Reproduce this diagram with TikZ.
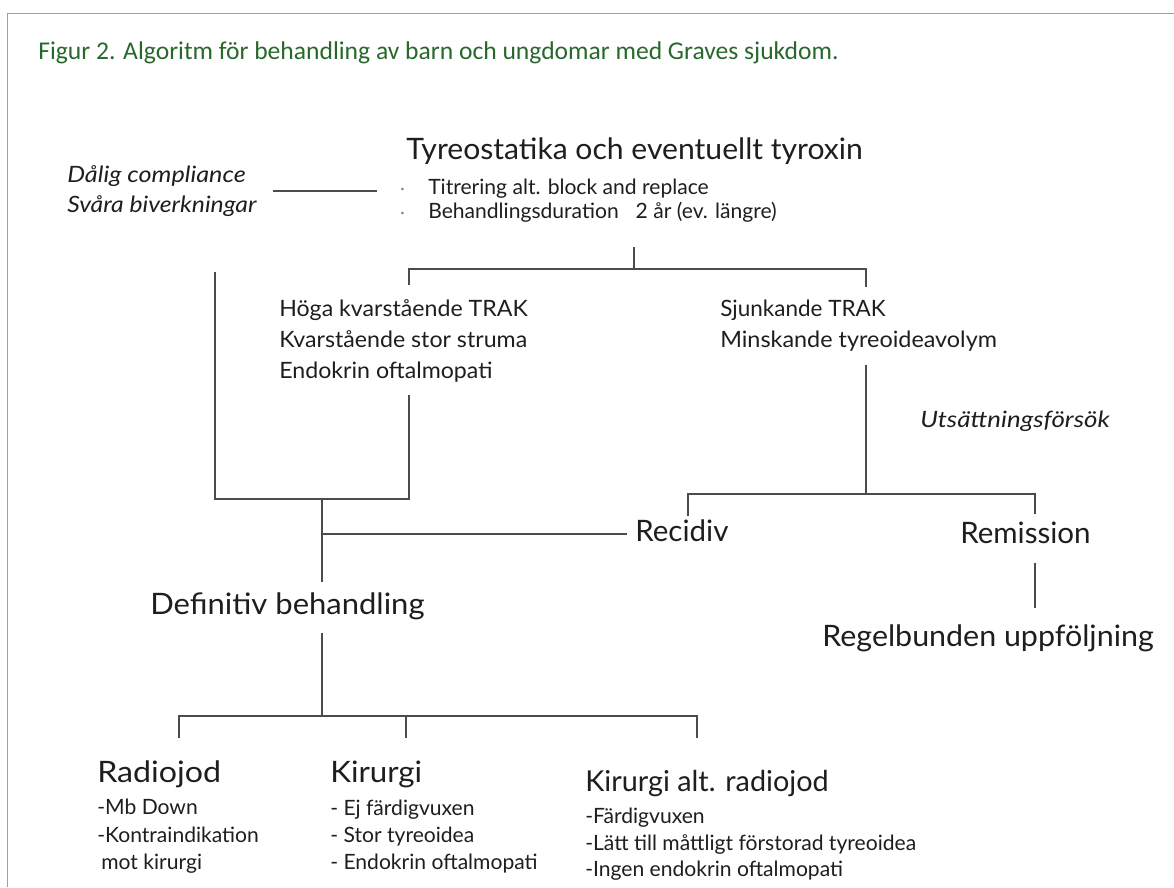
\documentclass[tikz,border=0pt]{standalone}
\usepackage{fontspec}
\setmainfont{Lato}
\newfontfamily\titlefont{Carlito}
\definecolor{titlegreen}{RGB}{40,104,44}
\definecolor{txt}{RGB}{30,30,30}
\definecolor{linegray}{RGB}{75,75,75}
\definecolor{framegray}{RGB}{160,160,160}
\newcommand{\hs}[2]{\scalebox{#1}[1]{#2}}
\tikzset{
  base/.style={anchor=west, inner sep=0pt, text=txt, text height=0.72em, text depth=0pt},
  ttl/.style={base, text=titlegreen, font=\titlefont\fontsize{18.2}{20}\selectfont},
  big/.style={base, font=\fontsize{21}{24}\selectfont},
  med/.style={base, font=\fontsize{16}{19}\selectfont},
  medit/.style={base, font=\itshape\fontsize{16}{19}\selectfont},
  sml/.style={base, font=\fontsize{15}{18}\selectfont},
  bul/.style={base, text=gray, font=\fontsize{12}{14}\selectfont},
  conn/.style={draw=linegray, line width=1.1pt},
}
\begin{document}
\begin{tikzpicture}[x=0.25mm,y=-0.25mm]
\useasboundingbox (0,0) rectangle (1174,887);
\draw[framegray, line width=1.4pt] (7.5,887) -- (7.5,13.5) -- (1174,13.5);

\node[ttl] (title) at (38,54) {Figur 2. Algoritm för behandling av barn och ungdomar med Graves sjukdom.};

% top block
\node[big] (tyreo) at (406,154) {\hs{1.02}{Tyreostatika och eventuellt tyroxin}};
\node[bul] (b1) at (400,189) {·};
\node[bul] (b2) at (400,213) {·};
\node[sml] (sub1) at (428,189) {Titrering alt. block and replace};
\node[sml] (sub2) at (428,213) {Behandlingsduration\hspace{0.8em}2 år (ev. längre)};

\node[medit] (dalig) at (67,177) {\hs{1.12}{Dålig compliance}};
\node[medit] (svara) at (67,207) {\hs{1.1}{Svåra biverkningar}};

\node[med] (hoga1) at (279,311) {\hs{1.03}{Höga kvarstående TRAK}};
\node[med] (hoga2) at (279,342) {\hs{1.03}{Kvarstående stor struma}};
\node[med] (hoga3) at (279,373) {\hs{1.03}{Endokrin oftalmopati}};
\node[med] (sjunk1) at (720,311) {\hs{1.0}{Sjunkande TRAK}};
\node[med] (sjunk2) at (720,342) {\hs{1.04}{Minskande tyreoideavolym}};
\node[medit] (uts) at (920,422) {\hs{1.15}{Utsättningsförsök}};

\node[big] (recidiv) at (635,536) {Recidiv};
\node[big] (remission) at (960,538) {Remission};
\node[big] (regel) at (822,641) {\hs{1.03}{Regelbunden uppföljning}};
\node[big] (defin) at (150,609) {\hs{1.05}{Definitiv behandling}};

\node[big] (radio) at (97,777) {\hs{1.09}{Radiojod}};
\node[big] (kir) at (330,777) {\hs{1.06}{Kirurgi}};
\node[big, font=\fontsize{20.5}{24}\selectfont] (kiralt) at (585,786) {Kirurgi alt. radiojod};

\node[sml] (ra1) at (97,809) {-Mb Down};
\node[sml] (ra2) at (97,837) {-Kontraindikation};
\node[sml] (ra3) at (101,864) {mot kirurgi};
\node[sml] (ki1) at (330,810) {- Ej färdigvuxen};
\node[sml] (ki2) at (330,837) {- Stor tyreoidea};
\node[sml] (ki3) at (330,864) {- Endokrin oftalmopati};
\node[sml] (ka1) at (585,818) {-Färdigvuxen};
\node[sml] (ka2) at (585,845) {-Lätt till måttligt förstorad tyreoidea};
\node[sml] (ka3) at (585,871) {-Ingen endokrin oftalmopati};

% junction coordinates
\coordinate (d1) at (273,191);
\coordinate (d2) at (377,191);
\coordinate (t0) at (634,247);
\coordinate (t1) at (634,269);
\coordinate (tl) at (409,269);
\coordinate (tr) at (866,269);
\coordinate (tlb) at (409,285);
\coordinate (trb) at (866,287);
\coordinate (h0) at (409,395);
\coordinate (h1) at (409,499);
\coordinate (lb) at (215,499);
\coordinate (lt) at (215,272);
\coordinate (m0) at (322,499);
\coordinate (m1) at (322,534);
\coordinate (m2) at (322,582);
\coordinate (rc) at (627,534);
\coordinate (s0) at (866,365);
\coordinate (s1) at (866,494);
\coordinate (sl) at (688,494);
\coordinate (sr) at (1035,494);
\coordinate (slb) at (688,516);
\coordinate (srb) at (1035,514);
\coordinate (r0) at (1035,563);
\coordinate (r1) at (1035,608);
\coordinate (e0) at (322,633);
\coordinate (e1) at (322,716);
\coordinate (el) at (179,716);
\coordinate (em) at (406,716);
\coordinate (er) at (697,716);
\coordinate (elb) at (179,738);
\coordinate (emb) at (406,738);
\coordinate (erb) at (697,738);

\draw[conn] (d1) -- (d2);
\draw[conn] (t0) -- (t1);
\draw[conn] (tlb) -- (tl) -- (tr) -- (trb);
\draw[conn] (h0) -- (h1) -- (lb) -- (lt);
\draw[conn] (m0) -- (m2);
\draw[conn] (m1) -- (rc);
\draw[conn] (s0) -- (s1);
\draw[conn] (slb) -- (sl) -- (sr) -- (srb);
\draw[conn] (r0) -- (r1);
\draw[conn] (e0) -- (e1);
\draw[conn] (elb) -- (el) -- (er) -- (erb);
\draw[conn] (em) -- (emb);
\end{tikzpicture}
\end{document}
